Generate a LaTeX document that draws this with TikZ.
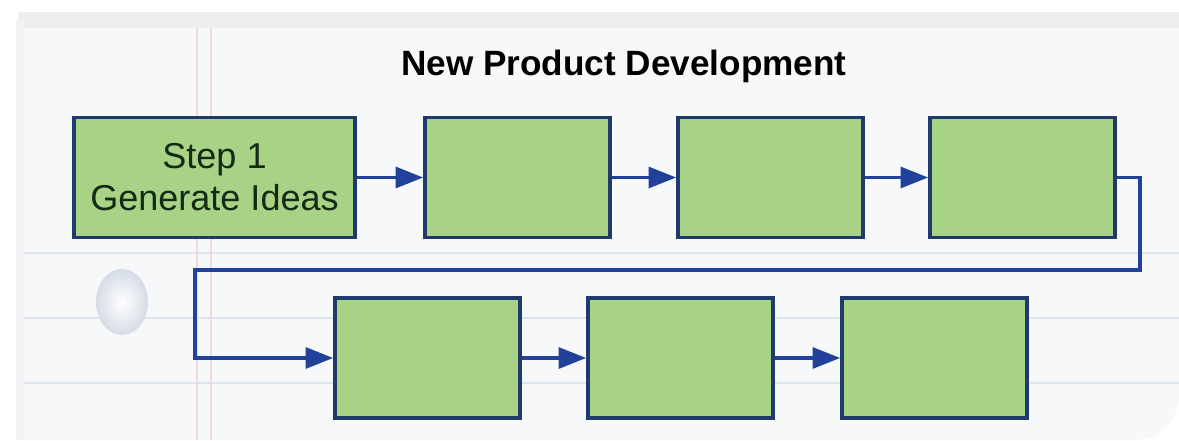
\documentclass[tikz,border=0pt]{standalone}
\usepackage{fontspec}
\setmainfont{Liberation Sans}
\usetikzlibrary{arrows.meta}
\usetikzlibrary{positioning}

\definecolor{boxgreen}{HTML}{A8D386}
\definecolor{boxnavy}{HTML}{1F3A6B}
\definecolor{flowblue}{HTML}{21419A}
\definecolor{paper}{HTML}{F7F8FA}
\definecolor{ruleblue}{HTML}{DCE6F0}
\definecolor{marginpink}{HTML}{F2D6DC}
\definecolor{holegray}{HTML}{D5DCE6}
\definecolor{inkgreen}{HTML}{142A14}

\tikzset{
  stepbox/.style={draw=boxnavy,fill=boxgreen,line width=2.2pt,
    minimum width=3.7cm,minimum height=2.4cm,align=center,
    font=\fontsize{20.5}{24}\selectfont,text=inkgreen,inner sep=0pt},
  flow/.style={draw=flowblue,line width=1.8pt,
    -{Triangle[length=0.55cm,width=0.42cm]}}
}

\begin{document}
\begin{tikzpicture}[x=0.02cm,y=-0.02cm]
  \useasboundingbox (0,0) rectangle (1179,440);
  % sheet of paper
  \fill[white] (0,0) rectangle (1179,440);
  \fill[black!7] (18,12) rectangle (1179,30);
  \fill[black!5] (16,20) rectangle (24,440);
  \fill[paper] (24,28) -- (1179,28) -- (1179,410) [rounded corners=25pt] -- (1179,440) [sharp corners] -- (24,440) -- cycle;
  \foreach \y in {253,318,383}
    \draw[ruleblue,line width=1.2pt] (24,\y) -- (1179,\y);
  \draw[marginpink,line width=1pt] (197,28) -- (197,440);
  \draw[marginpink,line width=1pt] (211,28) -- (211,440);
  \shade[inner color=white,outer color=holegray] (122,302) ellipse (26 and 33);

  % title
  \node[font=\fontsize{20}{24}\selectfont\bfseries] (title) at (624,66) {New Product Development};

  % top row
  \node[stepbox,minimum width=5.62cm] (s1) at (214.5,177.5) {Step 1\\Generate Ideas};
  \node[stepbox] (s2) at (517.5,177.5) {};
  \node[stepbox] (s3) at (770.5,177.5) {};
  \node[stepbox] (s4) at (1022.5,177.5) {};
  % bottom row
  \node[stepbox] (s5) at (427.5,358) {};
  \node[stepbox] (s6) at (680.5,358) {};
  \node[stepbox] (s7) at (934.5,358) {};

  \coordinate (turnR) at (1140,270);
  \coordinate (turnL) at (195,270);

  \draw[flow] (s1) -- (s2);
  \draw[flow] (s2) -- (s3);
  \draw[flow] (s3) -- (s4);
  \draw[flow] (s4.east) -| (turnR) -- (turnL) |- (s5.west);
  \draw[flow] (s5) -- (s6);
  \draw[flow] (s6) -- (s7);
\end{tikzpicture}
\end{document}
